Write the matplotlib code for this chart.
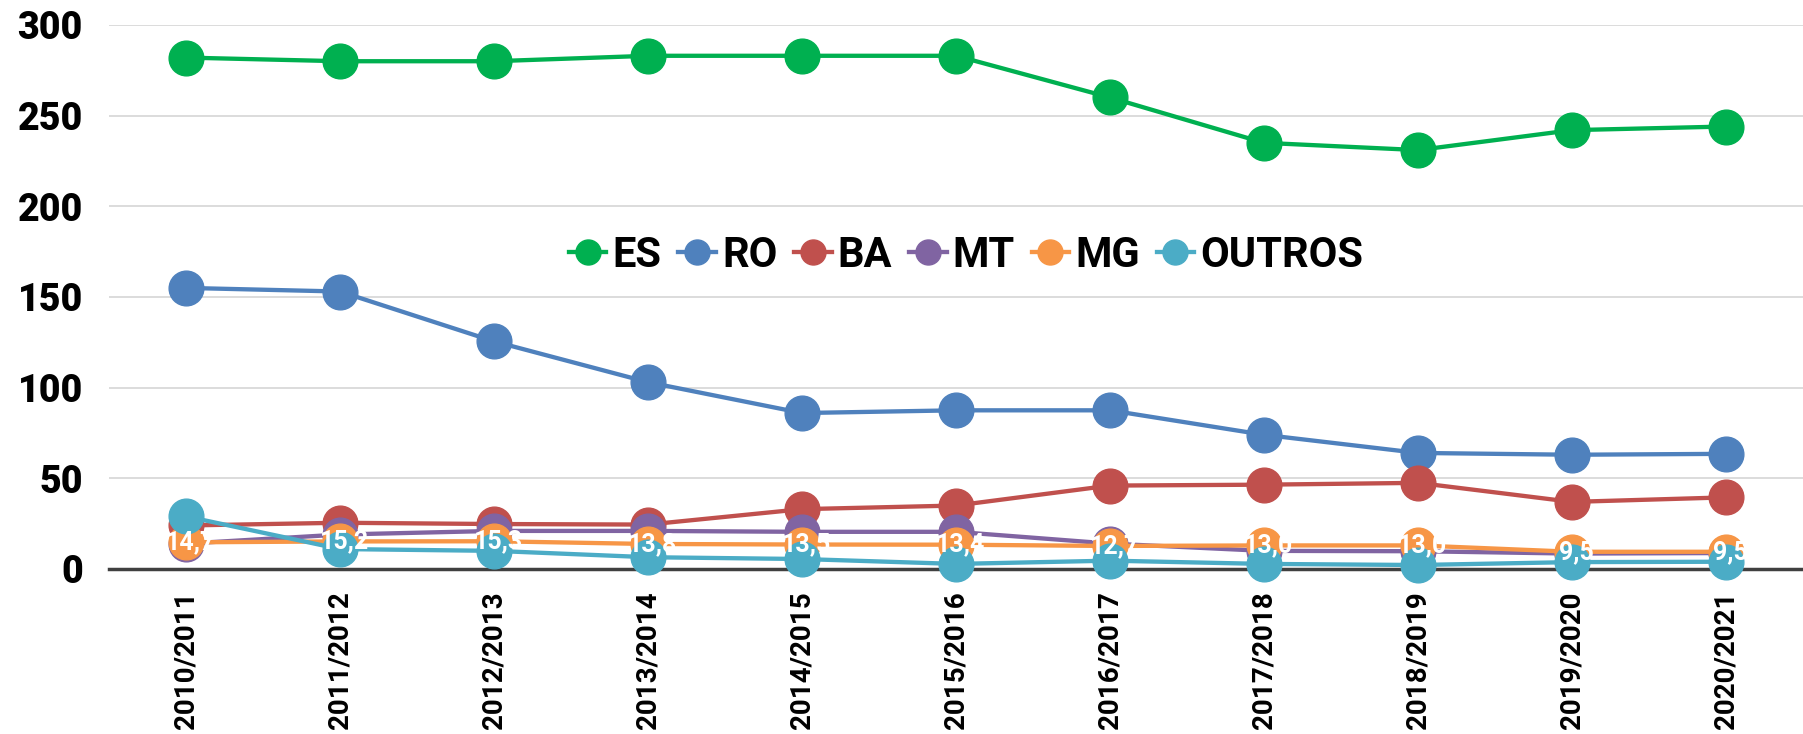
import numpy as np
from matplotlib import pyplot as plt

safras = ["2010/2011", "2011/2012", "2012/2013", "2013/2014", "2014/2015", "2015/2016",
          "2016/2017", "2017/2018", "2018/2019", "2019/2020", "2020/2021"]

es = [282, 280, 280, 283, 283, 283, 260, 235, 231, 242, 244]
ro = [155, 153, 125.5, 103, 86, 87.5, 87.5, 74, 64, 63, 63.5]
ba = [24, 25.5, 24.8, 24.5, 33, 35, 46, 46.5, 47.5, 37, 39.5]
mt = [14, 19, 21, 21, 20.5, 20.5, 14, 10, 9.8, 8.5, 8.8]
mg = [14.7, 15.2, 15.3, 13.8, 13.5, 13.4, 12.7, 13.0, 13.0, 9.5, 9.5]
outros = [29, 11, 10, 6.5, 5.5, 2.8, 4.6, 2.8, 2.2, 3.8, 4.0]

mg_labels = ["14,7", "15,2", "15,3", "13,8", "13,5", "13,4", "12,7", "13,0", "13,0", "9,5", "9,5"]

series = [("ES", es, "#00B050"), ("RO", ro, "#4F81BD"), ("BA", ba, "#C0504D"),
          ("MT", mt, "#8064A2"), ("MG", mg, "#F79646"), ("OUTROS", outros, "#4BACC6")]

plt.rcParams['font.family'] = ['Roboto', 'DejaVu Sans']

fig = plt.figure(figsize=(18.03, 7.34), dpi=100)
ax = fig.add_axes([0.0605, 0.2248, 0.9395, 0.7412])

x = np.arange(len(safras))
for name, vals, color in series:
    ax.plot(x, vals, color=color, linewidth=3.1, marker="o", markersize=25,
            label=name, clip_on=False, zorder=3)

for i in range(len(x)):
    ax.text(x[i] + 0.03, mg[i], mg_labels[i], color="white", fontsize=18, fontweight="bold",
            ha="center", va="center", zorder=5)

ax.set_xlim(-0.5, len(safras) - 0.5)
ax.set_ylim(0, 300)
ax.set_yticks([0, 50, 100, 150, 200, 250, 300])
ax.set_xticks(x)
ax.set_xticklabels(safras, rotation=90, fontsize=20, fontweight="bold")
for lbl in ax.get_yticklabels():
    lbl.set_fontsize(27)
    lbl.set_fontweight("heavy")
ax.tick_params(axis="both", length=0)
ax.tick_params(axis="y", pad=19)
ax.tick_params(axis="x", pad=16)

ax.grid(axis="y", color="#D9D9D9", linewidth=1.3)
ax.set_axisbelow(True)
for side in ["top", "right", "left"]:
    ax.spines[side].set_visible(False)
ax.spines["bottom"].set_color("#404040")
ax.spines["bottom"].set_linewidth(2.5)
ax.spines["bottom"].set_zorder(2)

leg = ax.legend(loc="center", bbox_to_anchor=(0.506, 0.577), ncol=6, frameon=False,
                prop={"size": 30, "weight": "bold"}, markerscale=0.72, handlelength=0.9,
                handletextpad=0.15, columnspacing=0.4)

plt.savefig("out.png", dpi=100)
